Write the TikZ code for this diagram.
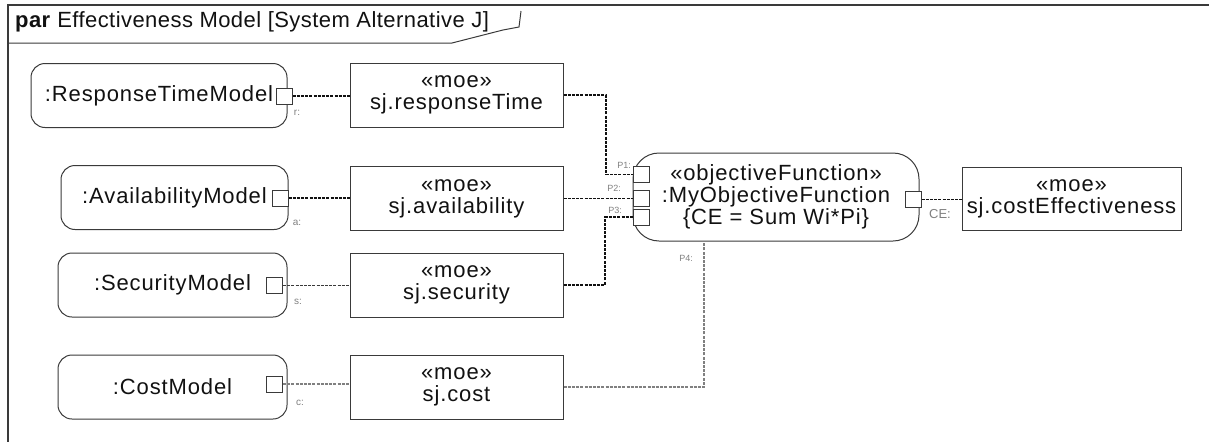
\documentclass[tikz,border=0pt]{standalone}
\usepackage{fontspec}
\setmainfont{Liberation Sans}
\newfontfamily\partface[LetterSpace=4]{Liberation Sans}
\newfontfamily\titleface[LetterSpace=2]{Liberation Sans}
\usetikzlibrary{positioning}
\definecolor{ink}{HTML}{111111}
\definecolor{edge}{HTML}{3A3A3A}
\definecolor{faint}{HTML}{808080}
\newcommand{\partfont}{\partface\fontsize{22}{22}\selectfont}
\newcommand{\tagfont}{\fontsize{9}{10}\selectfont}
\tikzset{
  partbox/.style={draw=edge, rounded corners=14pt, line width=1pt, minimum height=64pt,
                  align=center, inner sep=0pt, font=\partfont, text=ink},
  moebox/.style={draw=edge, line width=1pt, minimum width=213pt, minimum height=64pt,
                 align=center, inner sep=0pt, font=\partfont, text=ink},
  port/.style={draw=edge, fill=white, line width=1pt, minimum size=16pt, inner sep=0pt},
  link/.style={draw=ink, line width=1.2pt, dash pattern=on 3pt off 1.2pt},
  tag/.style={font=\tagfont, text=faint, inner sep=0pt}
}

\begin{document}
\begin{tikzpicture}[x=1pt,y=-1pt]
        \useasboundingbox (0,0) rectangle (1209,442);
        % frame and title tab
        \draw[edge,line width=1.6pt] (1209,5) -- (8,5) -- (8,442);
        \draw[edge,line width=1pt] (8,43) -- (452,43) -- (503,30) -- (519,27) -- (521,11);
        \node[anchor=west,font=\titleface\fontsize{22}{22}\selectfont,text=ink,inner sep=0pt] (title) at (15,22)
          {\textbf{par} Effectiveness Model [System Alternative J]};

        % analysis models
        \node[partbox,minimum width=256pt] (rtm) at (159,95.5) {:ResponseTimeModel};
        \node[partbox,minimum width=227pt] (avm) at (174.5,197.5) {:AvailabilityModel};
        \node[partbox,minimum width=229pt] (scm) at (172.5,285) {:SecurityModel};
        \node[partbox,minimum width=229pt] (csm) at (172.5,387) {:CostModel};
        \node[port] (rport) at (284,96) {};
        \node[port] (aport) at (280,198) {};
        \node[port] (sport) at (274.5,285.5) {};
        \node[port] (cport) at (274.5,384) {};
        \node[tag,font=\fontsize{10}{10}\selectfont] (rtag) at (297,113) {r:};
        \node[tag,font=\fontsize{10}{10}\selectfont] (atag) at (297,223) {a:};
        \node[tag,font=\fontsize{10}{10}\selectfont] (stag) at (298,302) {s:};
        \node[tag,font=\fontsize{10}{10}\selectfont] (ctag) at (300,403) {c:};

        % measures of effectiveness
        \node[moebox] (rtime) at (456.5,95) {«moe»\\sj.responseTime};
        \node[moebox] (avail) at (456.5,198.5) {«moe»\\sj.availability};
        \node[moebox] (secur) at (456.5,285) {«moe»\\sj.security};
        \node[moebox] (cost) at (456.5,387) {«moe»\\sj.cost};
        \node[moebox,minimum width=219pt,minimum height=63pt] (ceff) at (1071.5,198.5)
          {«moe»\\sj.costEffectiveness};

        % objective function
        \node[partbox,rounded corners=26pt,minimum width=286pt,minimum height=88pt] (objfn) at (776,197)
          {«objectiveFunction»\\:MyObjectiveFunction\\\{CE = Sum Wi*Pi\}};
        \node[port] (p1) at (641.5,174.5) {};
        \node[port] (p2) at (641.5,198) {};
        \node[port] (p3) at (641.5,217) {};
        \node[port] (ceport) at (913,199.5) {};
        \node[tag] (p1tag) at (624,165) {P1:};
        \node[tag] (p2tag) at (614,188) {P2:};
        \node[tag] (p3tag) at (615,210) {P3:};
        \node[tag] (p4tag) at (686,258) {P4:};
        \node[tag,font=\fontsize{13}{13}\selectfont] (cetag) at (940,214) {CE:};
        \coordinate (bend1) at (606,0);
        \coordinate (bend3) at (605,0);
        \coordinate (p4) at (704,241);

        % bindings
        \draw[link] (rport.east) -- (rport.east -| rtime.west);
        \draw[link] (aport.east) -- (aport.east -| avail.west);
        \draw[link,draw=edge] (sport.east) -- (sport.east -| secur.west);
        \draw[link,draw=faint] (cport.east) -- (cport.east -| cost.west);
        \draw[link] (rtime.east) -- (rtime.east -| bend1) |- (p1.west);
        \draw[link] (avail.east) -- (avail.east -| p2.west);
        \draw[link] (secur.east) -- (secur.east -| bend3) |- (p3.west);
        \draw[link,draw=faint] (cost.east) -| (p4);
        \draw[link] (ceport.east) -- (ceport.east -| ceff.west);
      \end{tikzpicture}
\end{document}
